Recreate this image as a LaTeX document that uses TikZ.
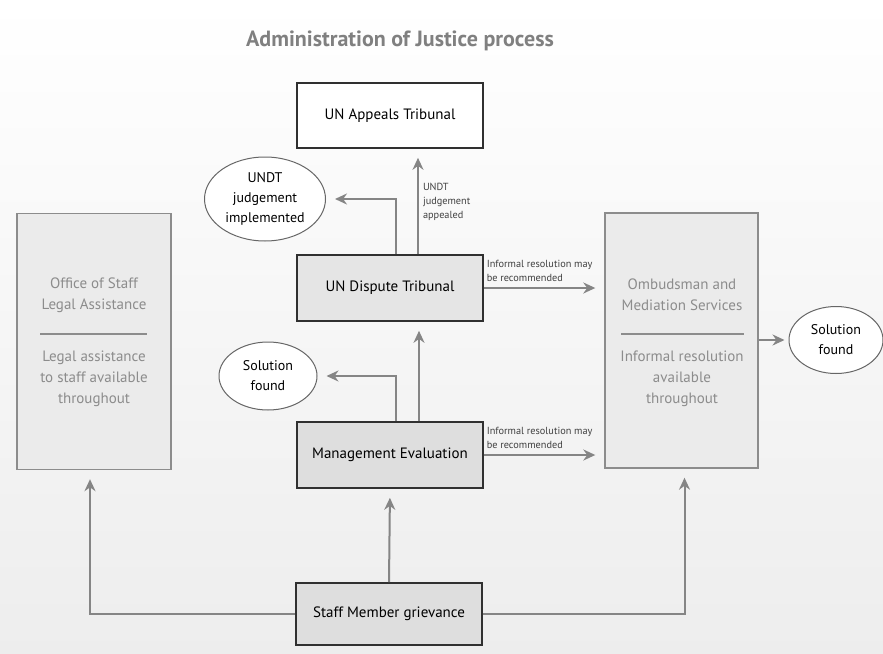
\documentclass[tikz,border=0pt]{standalone}
\usepackage{fontspec}
\setmainfont{PT Sans}
\usepackage{tikz}
\usetikzlibrary{arrows.meta,positioning,shapes.geometric}

\definecolor{arrowgray}{HTML}{858585}
\definecolor{sidegray}{HTML}{8C8C8C}
\definecolor{boxdark}{HTML}{303030}

\tikzset{
  mainbox/.style={draw=boxdark, line width=1.6pt, fill=#1, minimum width=186pt, minimum height=65pt, font=\fontsize{15}{18}\selectfont},
  mainbox/.default={black!10},
  sidebox/.style={draw=sidegray, line width=1.4pt, fill=black!8, minimum width=154pt, minimum height=256pt},
  sidetext/.style={text=sidegray, align=center, font=\fontsize{15}{21}\selectfont},
  outcome/.style={ellipse, draw=black!60, line width=1pt, fill=white, align=center, inner sep=0pt, font=\fontsize{14}{20}\selectfont},
  arr/.style={draw=arrowgray, line width=2pt, -{Stealth[length=12pt,width=11pt]}, shorten >=9pt},
  note/.style={align=left, text=black!75, font=\fontsize{10.3}{14}\selectfont, inner sep=2pt}
}

\begin{document}
\begin{tikzpicture}[x=1pt, y=-1pt]
	\shade[top color=white, bottom color=black!7] (0,0) rectangle (883,653);
	\useasboundingbox (0,0) rectangle (883,653);

	\node[text=black!50, font=\fontsize{22}{24}\bfseries] (title) at (400,41) {Administration of Justice process};

	% centre column
	\node[mainbox=white] (appeals) at (390,115.5) {UN Appeals Tribunal};
	\node[mainbox, minimum height=66pt] (undt) at (390,288) {UN Dispute Tribunal};
	\node[mainbox=black!13, minimum height=66pt] (mgmt) at (390,455) {Management Evaluation};
	\node[mainbox=black!13, minimum height=62pt] (grievance) at (389,614) {Staff Member grievance};

	% outcomes
	\node[outcome, minimum width=121pt, minimum height=84pt] (undtdone) at (265,199) {UNDT\\judgement\\implemented};
	\node[outcome, minimum width=98pt, minimum height=68pt] (solved1) at (268,376) {Solution\\found};
	\node[outcome, minimum width=94pt, minimum height=67pt] (solved2) at (836,340) {Solution\\found};

	% side boxes
	\node[sidebox] (osla) at (94,341.5) {};
	\node[sidetext] (oslatop) at (94,295) {Office of Staff\\Legal Assistance};
	\node[sidetext] (oslabot) at (94,379) {Legal assistance\\to staff available\\throughout};
	\draw[draw=sidegray, line width=1.4pt] (40,334) -- (147,334);

	\node[sidebox, minimum width=153pt, minimum height=255pt] (ombud) at (681.5,340.5) {};
	\node[sidetext] (ombudtop) at (682,295) {Ombudsman and\\Mediation Services};
	\node[sidetext] (ombudbot) at (682,379) {Informal resolution\\available\\throughout};
	\draw[draw=sidegray, line width=1.4pt] (621,334) -- (744,334);

	% connectors
	\draw[arr] ([xshift=6pt]undt.north) |- (undtdone);
	\draw[arr] ([xshift=28pt]undt.north) -- node[note, right, xshift=2pt] {UNDT\\judgement\\appealed} ([xshift=28pt]appeals.south);
	\draw[arr] (undt.east) -- node[note, above right, pos=0, yshift=3pt] {Informal resolution may\\be recommended} (ombud.west |- undt.east);

	\draw[arr] ([xshift=6pt]mgmt.north) |- (solved1);
	\draw[arr] ([xshift=29pt]mgmt.north) -- ([xshift=29pt]undt.south);
	\draw[arr] (mgmt.east) -- node[note, above right, pos=0, yshift=3pt] {Informal resolution may\\be recommended} (ombud.west |- mgmt.east);

	\draw[arr, shorten >=4pt] (ombud.east |- solved2) -- (solved2);

	\draw[arr] (grievance.north) -- (mgmt.south);
	\draw[arr] (grievance.west) -| ([xshift=-4pt]osla.south);
	\draw[arr] (grievance.east) -| ([xshift=3pt]ombud.south);
\end{tikzpicture}
\end{document}
